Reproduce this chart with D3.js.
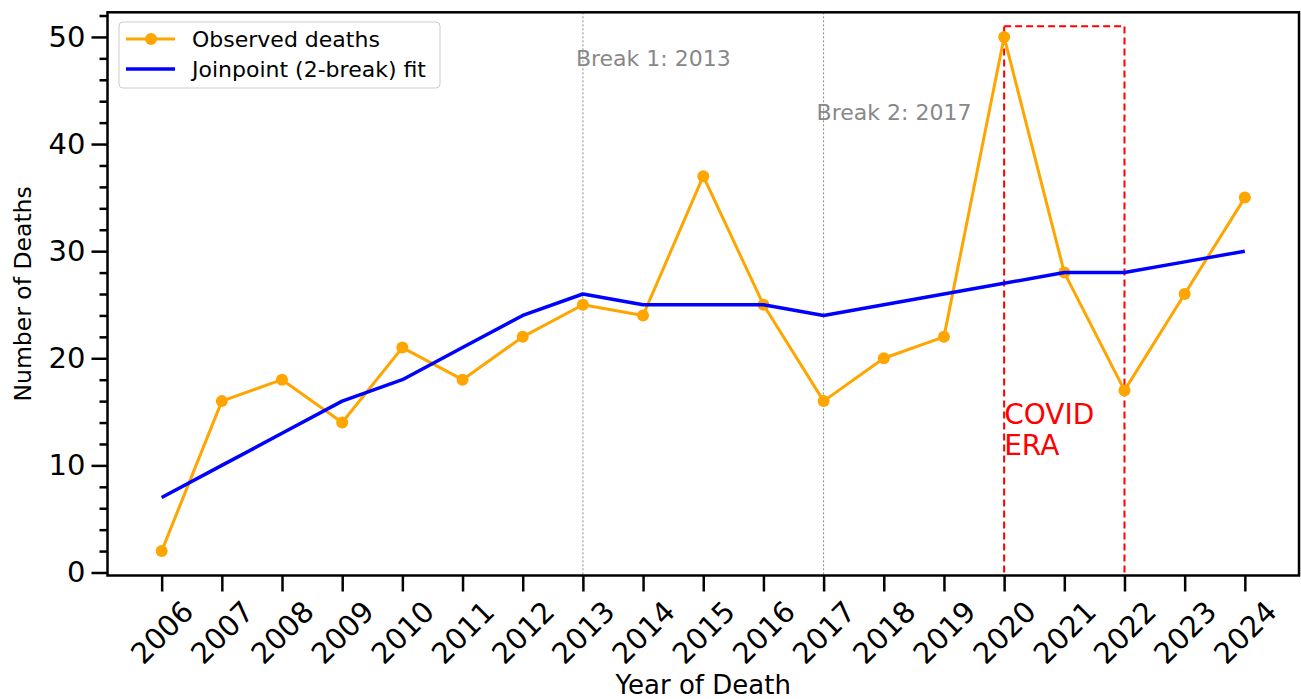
<!DOCTYPE html>
<html>
<head>
<meta charset="utf-8">
<script src="https://cdn.jsdelivr.net/npm/d3@7"></script>
<style>
  body { margin: 0; background: #fff; }
  svg text { font-family: "DejaVu Sans", sans-serif; }
</style>
</head>
<body>
<main></main>
<script>
// chart data
var years = [2006, 2007, 2008, 2009, 2010, 2011, 2012, 2013, 2014, 2015, 2016, 2017, 2018, 2019, 2020, 2021, 2022, 2023, 2024]
var observed = [2, 16, 18, 14, 21, 18, 22, 25, 24, 37, 25, 16, 20, 22, 50, 28, 17, 26, 35]
var fitted = [7, 10, 13, 16, 18, 21, 24, 26, 25, 25, 25, 24, 25, 26, 27, 28, 28, 29, 30]
var breaks = [2013, 2017]
var breakLabels = ['Break 1: 2013', 'Break 2: 2017']
var breakLabelY = [48, 43]
var covidSpan = [2020, 2022]
var covidTop = 51
var yTicks = [0, 10, 20, 30, 40, 50]
var yMinor = [2, 4, 6, 8, 12, 14, 16, 18, 22, 24, 26, 28, 32, 34, 36, 38, 42, 44, 46, 48, 52]

var width = 1301, height = 699

var svg = d3.select('main')
    .append('svg')
    .attr('width', width)
    .attr('height', height)

var x = d3.scaleLinear().domain([2005.1, 2024.9]).range([107.5, 1299])
var y = d3.scaleLinear().domain([-0.28, 52.3]).range([575.5, 12.3])

var plotTop = y.range()[1], plotBottom = y.range()[0]
var plotLeft = x.range()[0], plotRight = x.range()[1]

// break lines
svg.append('g').selectAll('line')
    .data(breaks)
    .enter()
    .append('line')
    .attr('x1', d => x(d)).attr('x2', d => x(d))
    .attr('y1', plotTop).attr('y2', plotBottom)
    .style('stroke', '#888')
    .style('stroke-width', 1)
    .style('stroke-dasharray', '2,2')

svg.append('g').selectAll('text')
    .data(breaks)
    .enter()
    .append('text')
    .attr('x', d => x(d) - 7)
    .attr('y', (d, i) => y(breakLabelY[i]))
    .attr('dy', '0.36em')
    .style('font-size', '22px')
    .style('fill', '#888')
    .text((d, i) => breakLabels[i])

// covid era box
var covid = svg.append('g')
    .style('stroke', 'red')
    .style('stroke-width', 2)
    .style('stroke-dasharray', '7,4')
    .style('fill', 'none')
covid.append('line')
    .attr('x1', x(covidSpan[0])).attr('x2', x(covidSpan[0]))
    .attr('y1', y(0)).attr('y2', y(covidTop))
covid.append('line')
    .attr('x1', x(covidSpan[1])).attr('x2', x(covidSpan[1]))
    .attr('y1', y(0)).attr('y2', y(covidTop))
covid.append('line')
    .attr('x1', x(covidSpan[0])).attr('x2', x(covidSpan[1]))
    .attr('y1', y(covidTop)).attr('y2', y(covidTop))

var covidText = svg.append('text')
    .attr('x', x(covidSpan[0]))
    .attr('y', y(15.8))
    .style('font-size', '28px')
    .style('fill', 'red')
covidText.append('tspan').attr('x', x(covidSpan[0])).attr('dy', '0.73em').text('COVID')
covidText.append('tspan').attr('x', x(covidSpan[0])).attr('dy', '1.1em').text('ERA')

// lines
var line = d3.line()
    .x((d, i) => x(years[i]))
    .y(d => y(d))

svg.append('path')
    .datum(observed)
    .attr('d', line)
    .style('fill', 'none')
    .style('stroke', 'orange')
    .style('stroke-width', 3)
    .style('stroke-linejoin', 'round')

svg.append('g').selectAll('circle')
    .data(observed)
    .enter()
    .append('circle')
    .attr('cx', (d, i) => x(years[i]))
    .attr('cy', d => y(d))
    .attr('r', 6)
    .style('fill', 'orange')

svg.append('path')
    .datum(fitted)
    .attr('d', line)
    .style('fill', 'none')
    .style('stroke', 'blue')
    .style('stroke-width', 3.5)
    .style('stroke-linejoin', 'round')

// axes
var xAxis = svg.append('g')
    .attr('transform', 'translate(0,' + plotBottom + ')')
    .call(d3.axisBottom(x).tickValues(years).tickFormat(d3.format('d')).tickSize(16).tickSizeOuter(0))
xAxis.selectAll('.tick text')
    .style('font-size', '29px')
    .style('fill', '#000')
    .attr('y', 0).attr('dy', 0)
    .attr('transform', 'translate(0,57) rotate(-45)')
    .attr('text-anchor', 'middle')
    .attr('dominant-baseline', 'central')

var yAxis = svg.append('g')
    .attr('transform', 'translate(' + plotLeft + ',0)')
    .call(d3.axisLeft(y).tickValues(yTicks).tickSize(16).tickSizeOuter(0).tickPadding(6))
yAxis.selectAll('.tick text')
    .style('font-size', '29px')
    .style('fill', '#000')

var yMinorAxis = svg.append('g')
    .attr('transform', 'translate(' + plotLeft + ',0)')
    .call(d3.axisLeft(y).tickValues(yMinor).tickSize(8).tickSizeOuter(0))
yMinorAxis.selectAll('.tick text').remove()

svg.selectAll('.tick line').style('stroke', '#000').style('stroke-width', 2.5)
svg.selectAll('.domain').remove()

// frame
svg.append('rect')
    .attr('x', plotLeft).attr('y', plotTop)
    .attr('width', plotRight - plotLeft).attr('height', plotBottom - plotTop)
    .style('fill', 'none')
    .style('stroke', '#000')
    .style('stroke-width', 2.5)

// axis labels
svg.append('text')
    .attr('x', (plotLeft + plotRight) / 2)
    .attr('y', 694)
    .attr('text-anchor', 'middle')
    .style('font-size', '26px')
    .text('Year of Death')

svg.append('text')
    .attr('transform', 'translate(31,' + (plotTop + plotBottom) / 2 + ') rotate(-90)')
    .attr('text-anchor', 'middle')
    .style('font-size', '23.5px')
    .text('Number of Deaths')

// legend
var legend = svg.append('g').attr('transform', 'translate(119,22)')
legend.append('rect')
    .attr('width', 321).attr('height', 66)
    .attr('rx', 4)
    .style('fill', '#fff').style('fill-opacity', 0.8)
    .style('stroke', '#ccc')
var legendItems = [
    { label: 'Observed deaths', color: 'orange', marker: true, w: 3 },
    { label: 'Joinpoint (2-break) fit', color: 'blue', marker: false, w: 3.5 }
]
legendItems.forEach(function (d, i) {
    var cy = 17 + i * 30
    legend.append('line')
        .attr('x1', 7).attr('x2', 56)
        .attr('y1', cy).attr('y2', cy)
        .style('stroke', d.color).style('stroke-width', d.w)
    if (d.marker) {
        legend.append('circle').attr('cx', 32).attr('cy', cy).attr('r', 6).style('fill', d.color)
    }
    legend.append('text')
        .attr('x', 73).attr('y', cy)
        .attr('dy', '0.36em')
        .style('font-size', '22px')
        .text(d.label)
})
</script>
</body>
</html>
